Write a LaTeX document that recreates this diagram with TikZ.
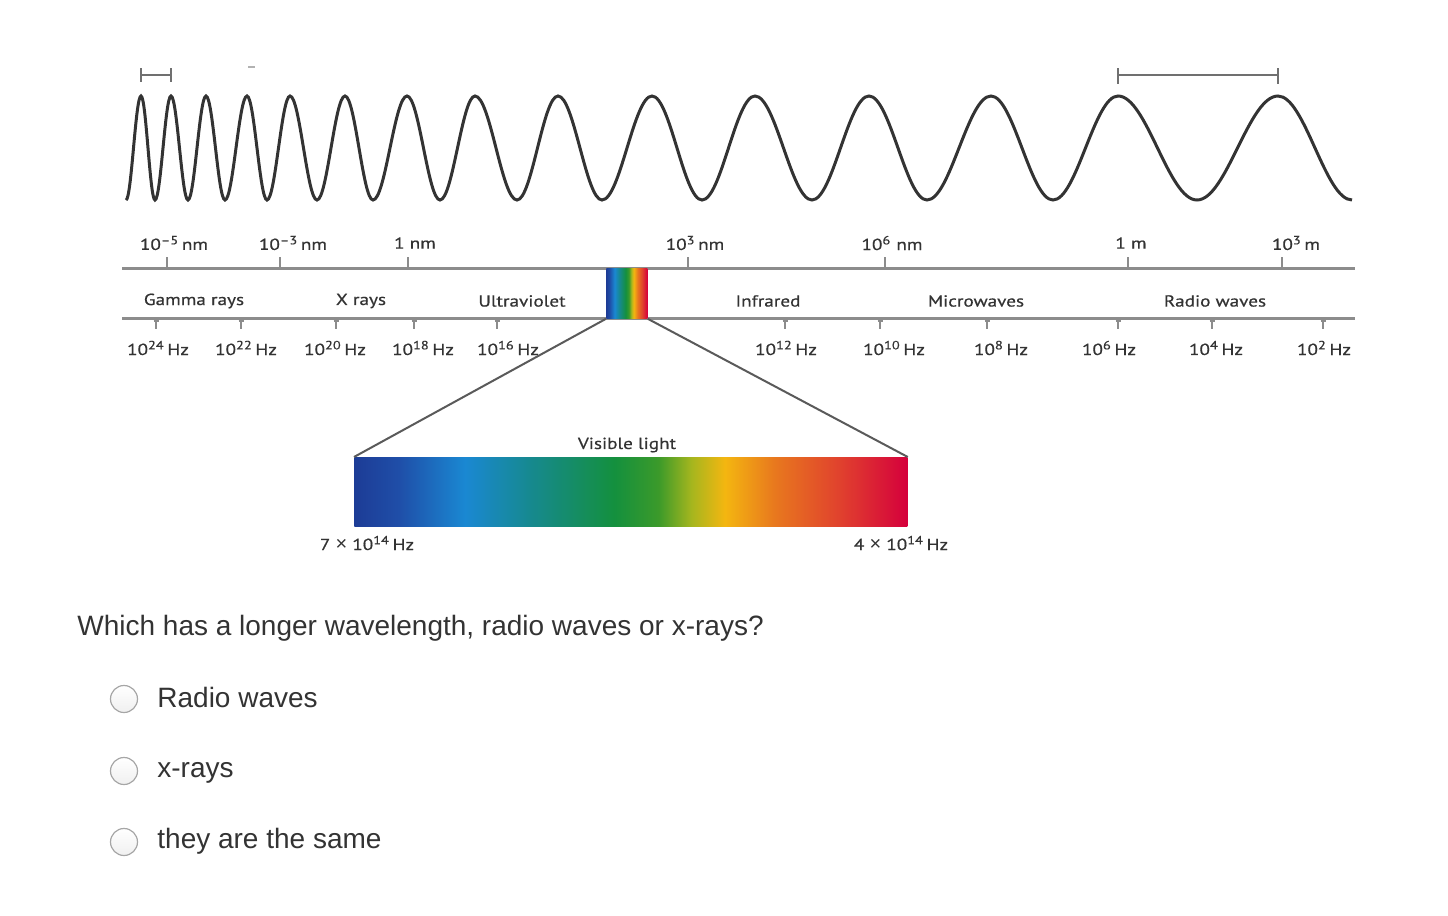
\documentclass[tikz,border=0pt]{standalone}
\usepackage{fontspec}
\setmainfont{Liberation Sans}
\newfontfamily\diag[FakeStretch=1.2,FakeBold=0.6]{PT Sans}
\newfontfamily\timesign{Liberation Sans}
\definecolor{wavec}{HTML}{333333}
\definecolor{axisc}{HTML}{8C8C8C}
\definecolor{linkc}{HTML}{5A5A5A}
\definecolor{txt}{HTML}{333333}
\definecolor{qtxt}{HTML}{333333}
\definecolor{sp0}{HTML}{1D3C96}
\definecolor{sp1}{HTML}{1F4EA8}
\definecolor{sp2}{HTML}{1A88D2}
\definecolor{sp3}{HTML}{16898E}
\definecolor{sp4}{HTML}{14903E}
\definecolor{sp5}{HTML}{3B9A2A}
\definecolor{sp6}{HTML}{A6B61E}
\definecolor{sp7}{HTML}{F4B610}
\definecolor{sp8}{HTML}{E8781E}
\definecolor{sp9}{HTML}{E0402E}
\definecolor{sp10}{HTML}{D5003C}
\pgfdeclarehorizontalshading{spectrum}{100bp}{color(0bp)=(sp0); color(25bp)=(sp0); color(29bp)=(sp1); color(35bp)=(sp2); color(41bp)=(sp3); color(48.5bp)=(sp4); color(52.5bp)=(sp5); color(55.5bp)=(sp6); color(58.5bp)=(sp7); color(63bp)=(sp8); color(69bp)=(sp9); color(75bp)=(sp10); color(100bp)=(sp10)}
\tikzset{
  lbl/.style={font=\diag\fontsize{8}{10}\selectfont, text=txt, inner sep=0pt},
  qtext/.style={font=\fontsize{14}{16}\selectfont, text=qtxt, inner sep=0pt, anchor=base west},
  axisline/.style={draw=axisc, line width=1.5pt},
  tickmark/.style={draw=axisc, line width=1pt},
  wave/.style={draw=wavec, line width=1.5pt},
  spanbar/.style={draw=axisc!80!black, line width=1pt},
  link/.style={draw=linkc, line width=1pt},
  radio/.style={circle, draw=black!35, line width=0.6pt, top color=white, bottom color=black!6, minimum size=13.5pt, inner sep=0pt},
}
\newcommand{\tsym}{{\timesign\fontsize{10}{10}\selectfont ×}}
\begin{document}
\begin{tikzpicture}[x=0.5pt, y=-0.5pt]
\useasboundingbox (0,0) rectangle (1448,916);
% tiny mark
\draw[draw=black!30, line width=0.6pt] (248,67) -- (255,67);
% wavelength span markers
\draw[spanbar] (141,75) -- (171,75);
\draw[spanbar] (141,68) -- (141,82);
\draw[spanbar] (171,68) -- (171,82);
\draw[spanbar] (1118,75) -- (1278,75);
\draw[spanbar] (1118,68) -- (1118,84);
\draw[spanbar] (1278,68) -- (1278,84);
% wave
\draw[wave] (126,200) cos (133.5,148) sin (141,96) cos (148,148) sin (155,200) cos (163,148) sin (171,96) cos (179.5,148) sin (188,200) cos (197,148) sin (206,96) cos (215.5,148) sin (225,200) cos (236,148) sin (247,96) cos (257,148) sin (267,200) cos (278.5,148) sin (290,96) cos (303.5,148) sin (317,200) cos (331,148) sin (345,96) cos (359,148) sin (373,200) cos (390,148) sin (407,96) cos (423.5,148) sin (440,200) cos (457.5,148) sin (475,96) cos (496,148) sin (517,200) cos (537.5,148) sin (558,96) cos (580,148) sin (602,200) cos (627,148) sin (652,96) cos (677,148) sin (702,200) cos (728.5,148) sin (755,96) cos (783.5,148) sin (812,200) cos (840.5,148) sin (869,96) cos (898,148) sin (927,200) cos (959,148) sin (991,96) cos (1022,148) sin (1053,200) cos (1085.5,148) sin (1118,96) cos (1157.5,148) sin (1197,200) cos (1237.5,148) sin (1278,96) cos (1315,148) sin (1352,200);
% axes
\coordinate (topL) at (122,268);
\coordinate (topR) at (1355,268);
\coordinate (botL) at (122,318);
\coordinate (botR) at (1355,318);
\draw[axisline] (topL) -- (topR);
\draw[axisline] (botL) -- (botR);
\foreach \x in {167,280,408,688,885,1128,1282} \draw[tickmark] (\x,268) -- (\x,257);
\foreach \x in {156,241,336,414,497,785,880,987,1118,1212,1323} {\draw[tickmark] (\x,318) -- (\x,329); \draw[tickmark] (\x-2.5,320.5) -- (\x+2.5,320.5);}
% wavelength labels
\node[lbl] (w1) at (174,243) {10\textsuperscript{–5}\,nm};
\node[lbl] (w2) at (293,243) {10\textsuperscript{–3}\,nm};
\node[lbl] (w3) at (415,243) {1 nm};
\node[lbl] (w4) at (695,243) {10\textsuperscript{3}\,nm};
\node[lbl] (w5) at (892,243) {10\textsuperscript{6} nm};
\node[lbl] (w6) at (1131,243) {1 m};
\node[lbl] (w7) at (1296,243) {10\textsuperscript{3}\,m};
% band labels
\node[lbl] (b1) at (194,301) {Gamma rays};
\node[lbl] (b2) at (361,301) {X rays};
\node[lbl] (b3) at (522,301) {Ultraviolet};
\node[lbl] (b4) at (768,301) {Infrared};
\node[lbl] (b5) at (976,301) {Microwaves};
\node[lbl] (b6) at (1215,301) {Radio waves};
% frequency labels
\node[lbl] (f1) at (158,348) {10\textsuperscript{24}\,Hz};
\node[lbl] (f2) at (246,348) {10\textsuperscript{22}\,Hz};
\node[lbl] (f3) at (335,348) {10\textsuperscript{20}\,Hz};
\node[lbl] (f4) at (423,348) {10\textsuperscript{18}\,Hz};
\node[lbl] (f5) at (508,348) {10\textsuperscript{16}\,Hz};
\node[lbl] (f6) at (786,348) {10\textsuperscript{12}\,Hz};
\node[lbl] (f7) at (894,348) {10\textsuperscript{10}\,Hz};
\node[lbl] (f8) at (1001,348) {10\textsuperscript{8}\,Hz};
\node[lbl] (f9) at (1109,348) {10\textsuperscript{6}\,Hz};
\node[lbl] (f10) at (1216,348) {10\textsuperscript{4}\,Hz};
\node[lbl] (f11) at (1324,348) {10\textsuperscript{2}\,Hz};
% visible light
\node[shading=spectrum, minimum width=20.5pt, minimum height=25pt, inner sep=0pt, anchor=north west] (vbox) at (606,268) {};
\node[shading=spectrum, minimum width=276.5pt, minimum height=34.5pt, inner sep=0pt, anchor=north west] (vbar) at (354,457) {};
\draw[link] (vbox.south west) -- (vbar.north west);
\draw[link] (vbox.south east) -- (vbar.north east);
\node[lbl] (vl) at (627,445) {Visible light};
\node[lbl] (v7) at (367,543) {7 \tsym{} 10\textsuperscript{14}\,Hz};
\node[lbl] (v4) at (901,543) {4 \tsym{} 10\textsuperscript{14}\,Hz};
% question
\node[qtext] (q) at (77,635) {Which has a longer wavelength, radio waves or x-rays?};
\node[radio] (c1) at (124,699) {};
\node[radio] (c2) at (124,771) {};
\node[radio] (c3) at (124,842) {};
\node[qtext] (o1) at (157,707) {Radio waves};
\node[qtext] (o2) at (157,777) {x-rays};
\node[qtext] (o3) at (157,848) {they are the same};
\end{tikzpicture}
\end{document}
